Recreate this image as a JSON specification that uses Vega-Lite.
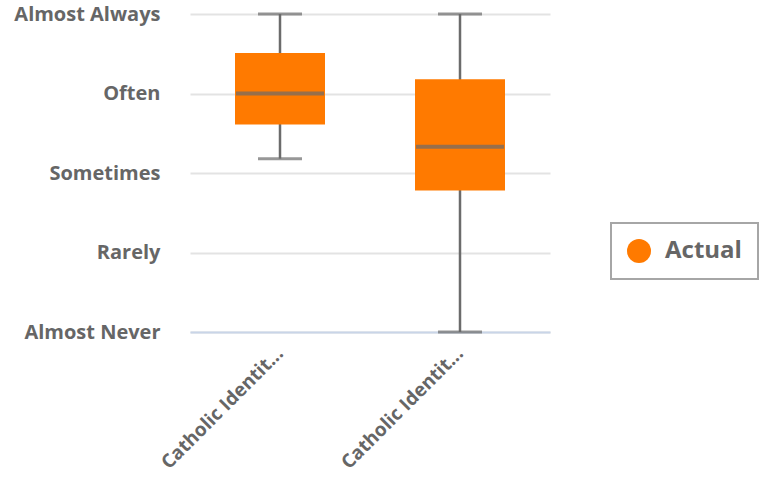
{
  "$schema": "https://vega.github.io/schema/vega-lite/v6.json",
  "width": 360,
  "height": 318,
  "autosize": {"type": "none"},
  "padding": {"left": 190, "top": 14, "right": 214, "bottom": 152},
  "background": "white",
  "config": {
    "font": "Open Sans",
    "view": {"stroke": null},
    "axis": {"labelFont": "Open Sans", "labelFontWeight": "bold", "labelColor": "#666666", "labelFontSize": 20}
  },
  "data": {
    "values": [
      {"category": "Catholic Identity 1", "series": "Actual", "min": 3.18, "q1": 3.61, "median": 4.0, "q3": 4.51, "max": 5},
      {"category": "Catholic Identity 2", "series": "Actual", "min": 1, "q1": 2.78, "median": 3.33, "q3": 4.18, "max": 5}
    ]
  },
  "encoding": {
    "x": {
      "field": "category",
      "type": "nominal",
      "sort": null,
      "scale": {"paddingInner": 0.5, "paddingOuter": 0.25},
      "axis": {
        "title": null,
        "labelAngle": -45,
        "labelAlign": "right",
        "labelBaseline": "middle",
        "labelPadding": 18,
        "labelFontSize": 19,
        "labelExpr": "slice(datum.label, 0, 16) + '...'",
        "ticks": false,
        "domainColor": "#c9d5e8",
        "domainWidth": 2,
        "grid": false
      }
    }
  },
  "layer": [
    {
      "mark": {"type": "rule", "color": "#6b6b6b", "strokeWidth": 2.5},
      "encoding": {
        "y": {
          "field": "min",
          "type": "quantitative",
          "scale": {"domain": [1, 5], "nice": false, "zero": false},
          "axis": {
            "title": null,
            "values": [1, 2, 3, 4, 5],
            "labelExpr": "['', 'Almost Never', 'Rarely', 'Sometimes', 'Often', 'Almost Always'][datum.value]",
            "labelPadding": 30,
            "labelBaseline": "middle",
            "ticks": false,
            "domain": false,
            "gridColor": "#e3e3e3",
            "gridWidth": 2
          }
        },
        "y2": {"field": "max"}
      }
    },
    {
      "mark": {"type": "bar"},
      "encoding": {
        "y": {"field": "q1", "type": "quantitative"},
        "y2": {"field": "q3"},
        "color": {
          "field": "series",
          "type": "nominal",
          "scale": {"range": ["#ff7a00"]},
          "legend": {
            "title": null,
            "orient": "none",
            "legendX": 421,
            "legendY": 209,
            "symbolType": "circle",
            "symbolSize": 576,
            "symbolStrokeWidth": 0,
            "labelFontSize": 24,
            "labelFontWeight": "bold",
            "labelFont": "Open Sans",
            "labelColor": "#666666",
            "labelOffset": 14,
            "padding": 16,
            "strokeColor": "#a6a6a6",
            "encode": {"legend": {"update": {"strokeWidth": {"value": 2}}}}
          }
        }
      }
    },
    {
      "mark": {"type": "tick", "color": "#6b6b6b", "size": 88, "thickness": 4},
      "encoding": {"y": {"field": "median", "type": "quantitative"}}
    },
    {
      "mark": {"type": "tick", "color": "#6b6b6b", "size": 44, "thickness": 3},
      "encoding": {"y": {"field": "min", "type": "quantitative"}}
    },
    {
      "mark": {"type": "tick", "color": "#6b6b6b", "size": 44, "thickness": 3},
      "encoding": {"y": {"field": "max", "type": "quantitative"}}
    }
  ]
}
